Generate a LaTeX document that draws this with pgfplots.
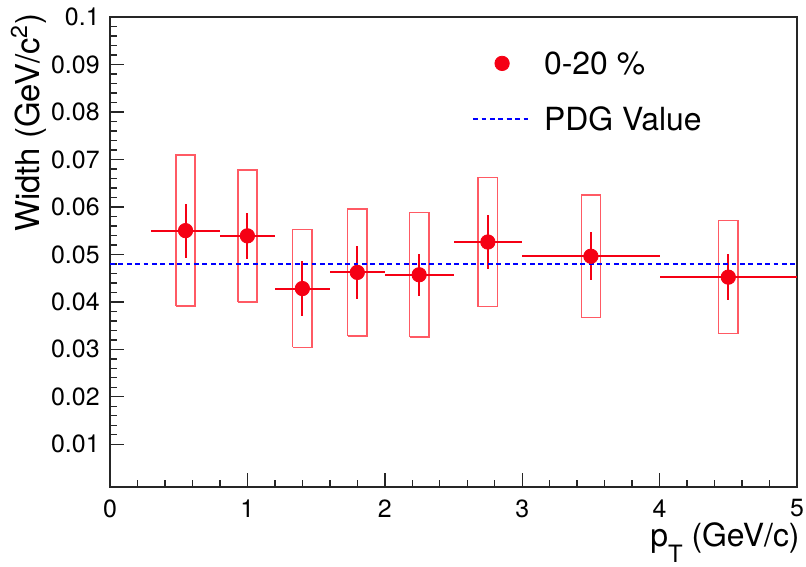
\documentclass[border=0pt]{standalone}
\usepackage{fontspec}
\setmainfont{TeX Gyre Heros}
\usepackage{pgfplots}
\pgfplotsset{compat=1.18}
\usepackage{pgfplotstable}
\definecolor{rootred}{RGB}{245,0,20}
\definecolor{boxred}{RGB}{255,90,100}
\definecolor{pdgblue}{RGB}{0,0,255}

% width vs pT: x, y, bin half width, stat error, sys error
\pgfplotstableread{
x     y       ex    ey      es
0.55  0.0550  0.25  0.0057  0.0159
1.00  0.0539  0.20  0.0048  0.0139
1.40  0.0428  0.20  0.0057  0.0124
1.80  0.0462  0.20  0.0055  0.0134
2.25  0.0457  0.25  0.0044  0.0131
2.75  0.0526  0.25  0.0057  0.0136
3.50  0.0496  0.50  0.0051  0.0129
4.50  0.0452  0.50  0.0048  0.0119
}\widthdata

% systematic boxes (x +- 0.07), one rectangle per point, nan rows break the path
\pgfplotstableread{
bx    by
0.48  0.0391
0.62  0.0391
0.62  0.0709
0.48  0.0709
0.48  0.0391
nan   nan
0.93  0.0400
1.07  0.0400
1.07  0.0678
0.93  0.0678
0.93  0.0400
nan   nan
1.33  0.0304
1.47  0.0304
1.47  0.0552
1.33  0.0552
1.33  0.0304
nan   nan
1.73  0.0328
1.87  0.0328
1.87  0.0596
1.73  0.0596
1.73  0.0328
nan   nan
2.18  0.0326
2.32  0.0326
2.32  0.0588
2.18  0.0588
2.18  0.0326
nan   nan
2.68  0.0390
2.82  0.0390
2.82  0.0662
2.68  0.0662
2.68  0.0390
nan   nan
3.43  0.0367
3.57  0.0367
3.57  0.0625
3.43  0.0625
3.43  0.0367
nan   nan
4.43  0.0333
4.57  0.0333
4.57  0.0571
4.43  0.0571
4.43  0.0333
}\sysboxes

\begin{document}
\begin{tikzpicture}
\begin{axis}[
  scale only axis,
  width=343.5bp, height=235bp,
  xmin=0, xmax=5, ymin=0.001, ymax=0.1,
  xtick={0,1,2,3,4,5},
  ytick={0.01,0.02,0.03,0.04,0.05,0.06,0.07,0.08,0.09,0.1},
  minor x tick num=4, minor y tick num=4,
  scaled y ticks=false,
  /pgf/number format/fixed, /pgf/number format/precision=2,
  /pgf/number format/assume math mode=true,
  tick align=inside, tick pos=left,
  major tick length=7bp, minor tick length=3.5bp,
  tick style={black!85, line width=0.7bp},
  axis line style={black!85, line width=0.7bp},
  ticklabel style={font=\fontsize{12.5}{15}\selectfont},
  yticklabel style={inner sep=0pt, anchor=east, xshift=-5bp},
  xticklabel style={inner sep=0pt, anchor=north, yshift=-6bp},
  unbounded coords=jump,
  legend image code/.code={\draw[mark repeat=2,mark phase=2,#1] plot coordinates {(0bp,0bp)(14.5bp,0bp)(29bp,0bp)};},
  reverse legend,
  legend style={at={(0.5265,0.9266)}, anchor=north west, draw=none, fill=none,
    inner sep=0pt, row sep=16.1bp, column sep=6bp,
    font=\fontsize{16}{19}\selectfont,
    nodes={inner sep=0pt, text height=11.5bp, text depth=0pt}},
  legend cell align=left,
]
  \addplot[boxred, line width=0.75bp, mark=none, forget plot] table[x=bx, y=by] {\sysboxes};
  \addplot[only marks, mark=none, forget plot,
    error bars/.cd, x dir=both, y dir=both, x explicit, y explicit,
    error mark=none, error bar style={draw=rootred, line width=1bp, solid}]
    table[x=x, y=y, x error=ex, y error=ey] {\widthdata};
  \addplot[pdgblue, line width=1bp, dash pattern=on 2.4bp off 1.8bp] coordinates {(0,0.048) (5,0.048)};
  \addlegendentry{PDG Value}
  \addplot[only marks, mark=*, mark size=3.6bp, color=rootred, mark options={fill=rootred, draw=rootred}]
    table[x=x, y=y] {\widthdata};
  \addlegendentry{0-20 \%}

  \coordinate (sw) at (rel axis cs:0,0);
  \coordinate (ne) at (rel axis cs:1,1);
\end{axis}
\node[rotate=90, anchor=base east, inner sep=0pt, font=\fontsize{16.5}{19}\selectfont]
  at ([xshift=-35.25bp, yshift=2bp]sw |- ne) {Width (GeV/c\textsuperscript{2})};
\node[anchor=base east, inner sep=0pt, font=\fontsize{16}{19}\selectfont]
  at ([xshift=1.5bp, yshift=-29.75bp]ne |- sw) {p\raisebox{-8bp}{\fontsize{12}{14}\selectfont T} (GeV/c)};
\pgfresetboundingbox
\path[use as bounding box] ([xshift=-55bp,yshift=-40bp]sw) rectangle ([xshift=4.5bp,yshift=8.5bp]ne);
\end{tikzpicture}
\end{document}
